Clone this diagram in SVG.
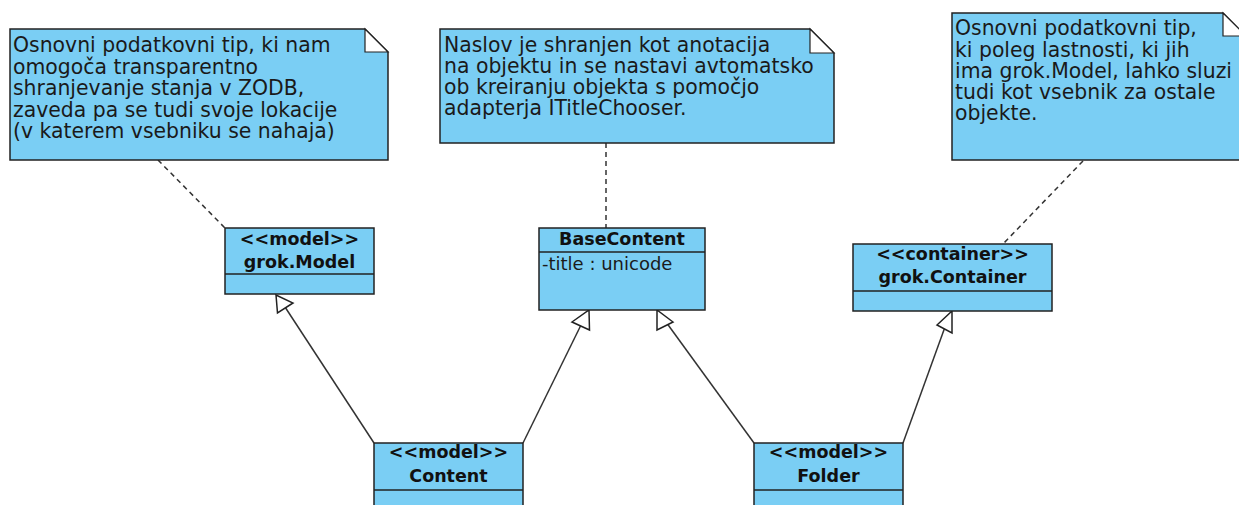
<svg xmlns="http://www.w3.org/2000/svg" width="1239" height="505" viewBox="0 0 1239 505">
  <style>
    .box { fill: #7acef4; stroke: #222; stroke-width: 1.5; }
    .fold { fill: #fff; stroke: #222; stroke-width: 1.2; }
    .sep { stroke: #222; stroke-width: 1.5; }
    .note { font-family: "DejaVu Sans", sans-serif; font-size: 20.4px; fill: #1a1a1a; }
    .attr { font-family: "DejaVu Sans", sans-serif; font-size: 18px; fill: #1a1a1a; }
    .cls { font-family: "DejaVu Sans", sans-serif; font-size: 17.5px; font-weight: bold; fill: #111; text-anchor: middle; }
    .anchor { stroke: #333; stroke-width: 1.5; stroke-dasharray: 5 4; fill: none; }
    .gen { stroke: #333; stroke-width: 1.5; fill: none; }
    .head { fill: #fff; stroke: #222; stroke-width: 1.5; }
  </style>

  <!-- connectors -->
  <g id="connectors">
    <!-- note anchors -->
    <line class="anchor" x1="158" y1="160" x2="225" y2="228"/>
    <line class="anchor" x1="606" y1="143" x2="606" y2="228"/>
    <line class="anchor" x1="1083" y1="161" x2="1003" y2="244"/>
    <!-- generalizations -->
    <line class="gen" x1="374" y1="443" x2="285" y2="307"/>
    <polygon class="head" points="276,295 277.5,313 293,303"/>
    <line class="gen" x1="523" y1="443" x2="581" y2="325"/>
    <polygon class="head" points="589,310 589.5,330 572,322"/>
    <line class="gen" x1="754" y1="443" x2="666" y2="322"/>
    <polygon class="head" points="657,310 657,330 673,322"/>
    <line class="gen" x1="903" y1="443" x2="945" y2="327"/>
    <polygon class="head" points="952,311 952,333 937,325"/>
  </g>

  <!-- notes -->
  <g id="note-model">
    <path class="box" d="M10,29 H365 L388,52 V160 H10 Z"/>
    <path class="fold" d="M365,29 V52 H388 Z"/>
    <text class="note" x="13" y="52">Osnovni podatkovni tip, ki nam</text>
    <text class="note" x="13" y="73.5">omogoča transparentno</text>
    <text class="note" x="13" y="95">shranjevanje stanja v ZODB,</text>
    <text class="note" x="13" y="116.5">zaveda pa se tudi svoje lokacije</text>
    <text class="note" x="13" y="138">(v katerem vsebniku se nahaja)</text>
  </g>

  <g id="note-title">
    <path class="box" d="M440,29 H810 L834,53 V143 H440 Z"/>
    <path class="fold" d="M810,29 V53 H834 Z"/>
    <text class="note" x="444" y="52">Naslov je shranjen kot anotacija</text>
    <text class="note" x="444" y="73">na objektu in se nastavi avtomatsko</text>
    <text class="note" x="444" y="94">ob kreiranju objekta s pomočjo</text>
    <text class="note" x="444" y="115">adapterja ITitleChooser.</text>
  </g>

  <g id="note-container">
    <path class="box" d="M952,13 H1223 L1246,36 V160 H952 Z"/>
    <path class="fold" d="M1223,13 V36 H1246 Z"/>
    <text class="note" x="955" y="35">Osnovni podatkovni tip,</text>
    <text class="note" x="955" y="56.5">ki poleg lastnosti, ki jih</text>
    <text class="note" x="955" y="77.5">ima grok.Model, lahko sluzi</text>
    <text class="note" x="955" y="98.5">tudi kot vsebnik za ostale</text>
    <text class="note" x="955" y="120">objekte.</text>
  </g>

  <!-- classes -->
  <g id="grok-model">
    <rect class="box" x="225" y="228" width="149" height="66"/>
    <line class="sep" x1="225" y1="274" x2="374" y2="274"/>
    <text class="cls" x="299.5" y="245">&lt;&lt;model&gt;&gt;</text>
    <text class="cls" x="299.5" y="268">grok.Model</text>
  </g>

  <g id="base-content">
    <rect class="box" x="539" y="228" width="166" height="82"/>
    <line class="sep" x1="539" y1="252" x2="705" y2="252"/>
    <text class="cls" x="622" y="245">BaseContent</text>
    <text class="attr" x="542" y="270">-title : unicode</text>
  </g>

  <g id="grok-container">
    <rect class="box" x="853" y="244" width="199" height="67"/>
    <line class="sep" x1="853" y1="291" x2="1052" y2="291"/>
    <text class="cls" x="952.5" y="260">&lt;&lt;container&gt;&gt;</text>
    <text class="cls" x="952.5" y="283">grok.Container</text>
  </g>

  <g id="content">
    <rect class="box" x="374" y="443" width="149" height="80"/>
    <line class="sep" x1="374" y1="490" x2="523" y2="490"/>
    <text class="cls" x="448.5" y="458">&lt;&lt;model&gt;&gt;</text>
    <text class="cls" x="448.5" y="482">Content</text>
  </g>

  <g id="folder">
    <rect class="box" x="754" y="443" width="149" height="80"/>
    <line class="sep" x1="754" y1="490" x2="903" y2="490"/>
    <text class="cls" x="828.5" y="458">&lt;&lt;model&gt;&gt;</text>
    <text class="cls" x="828.5" y="482">Folder</text>
  </g>
</svg>
